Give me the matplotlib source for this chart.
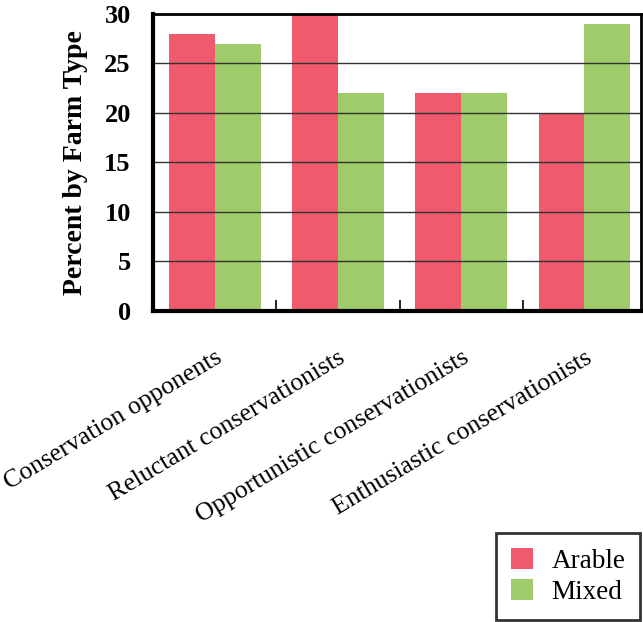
import numpy as np
import matplotlib.pyplot as plt
from matplotlib.patches import Patch

plt.rcParams['font.family'] = ['Liberation Serif', 'DejaVu Serif']

categories = ['Conservation opponents', 'Reluctant conservationists',
              'Opportunistic conservationists', 'Enthusiastic conservationists']
arable = [28, 30, 22, 20]
mixed = [27, 22, 22, 29]

red = '#ef5a6c'
green = '#9fcb6a'

fig = plt.figure(figsize=(6.43, 6.22), dpi=100)
ax = fig.add_axes([0.238, 0.5, 0.759, 0.4775])

x = np.arange(len(categories))
w = 0.372
ax.bar(x - w / 2, arable, width=w, color=red, zorder=1)
ax.bar(x + w / 2, mixed, width=w, color=green, zorder=1)

ax.set_xlim(-0.5, 3.46)
ax.set_ylim(0, 30)
ax.set_yticks(np.arange(0, 31, 5))
for yv in range(5, 30, 5):
    ax.axhline(yv, color='#333333', lw=1.0, zorder=2)

# small inward ticks between the groups
ax.set_xticks([0.5, 1.5, 2.5], minor=True)
ax.tick_params(axis='x', which='minor', direction='in', length=8, width=1.2, color='k')
ax.set_xticks(x)
ax.set_xticklabels(categories, rotation=31, ha='right', va='top',
                   rotation_mode='anchor', fontsize=18.5)
ax.tick_params(axis='x', which='major', length=0, pad=26)
ax.tick_params(axis='y', length=0, pad=16, labelsize=19)
for lab in ax.get_yticklabels():
    lab.set_fontweight('bold')

ax.set_ylabel('Percent by Farm Type', fontsize=20, fontweight='bold', labelpad=12)

ax.spines['left'].set_linewidth(3)
ax.spines['bottom'].set_linewidth(3)
ax.spines['top'].set_linewidth(2)
ax.spines['right'].set_linewidth(2)

handles = [Patch(facecolor=red, label='Arable'), Patch(facecolor=green, label='Mixed')]
leg = fig.legend(handles=handles, loc='lower right', bbox_to_anchor=(0.996, 0.003),
                 borderaxespad=0, fontsize=19.5, frameon=True, fancybox=False,
                 edgecolor='k', handlelength=0.8, handleheight=0.8,
                 handletextpad=0.7, borderpad=0.55, labelspacing=0.2)
leg.get_frame().set_linewidth(2)

fig.savefig('out.png', dpi=100)
